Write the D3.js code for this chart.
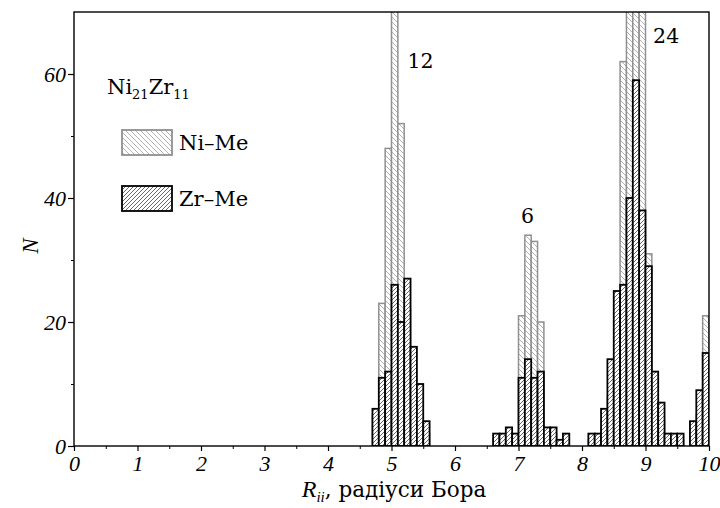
<!DOCTYPE html>
<html><head><meta charset="utf-8">
<script src="https://cdn.jsdelivr.net/npm/d3@7"></script>
<style>
body{margin:0;background:#fff;}
text{fill:#000;}
.up{font-family:"DejaVu Serif",serif;}
.it{font-family:"Liberation Serif",serif;font-style:italic;}
</style></head>
<body><svg id="c" width="720" height="508"></svg>
<script>
// bin left edges (Bohr radii), width 0.1
const binStart = [4.7,4.8,4.9,5.0,5.1,5.2,5.3,5.4,5.5,
  6.6,6.7,6.8,6.9,7.0,7.1,7.2,7.3,7.4,7.5,7.6,7.7,
  8.1,8.2,8.3,8.4,8.5,8.6,8.7,8.8,8.9,9.0,9.1,9.2,9.3,9.4,9.5,
  9.7,9.8,9.9];
const niMe = [5,23,48,96,52,22,10,6,2,
  1,1,1,1,21,34,33,20,2,2,0,1,
  1,1,3,8,22,62,90,95,92,31,9,4,1,1,1,
  2,5,21];
const zrMe = [6,11,12,26,20,27,16,10,4,
  2,2,3,2,11,14,11,12,3,3,1,2,
  2,2,6,14,25,26,40,59,38,29,12,7,2,2,2,
  4,9,15];
const binWidth = 0.1;
const xTicks = [0,1,2,3,4,5,6,7,8,9,10];
const yTicks = [0,20,40,60];
const peakLabels = [{t:"12", x:5.25, y:61}, {t:"6", x:7.04, y:36}, {t:"24", x:9.12, y:65}];

const svg = d3.select("#c");
const x = d3.scaleLinear().domain([0,10]).range([74,709]);
const y = d3.scaleLinear().domain([0,70]).range([446,12]);

const defs = svg.append("defs");
const pg = defs.append("pattern").attr("id","hGray").attr("patternUnits","userSpaceOnUse")
  .attr("width",5).attr("height",5);
pg.append("rect").attr("width",5).attr("height",5).attr("fill","#fff");
pg.append("path").attr("d","M0,0L5,5M-1,4L1,6M4,-1L6,1").attr("stroke","#a8a8a8").attr("stroke-width",0.9);
const pb = defs.append("pattern").attr("id","hBlack").attr("patternUnits","userSpaceOnUse")
  .attr("width",4).attr("height",4);
pb.append("rect").attr("width",4).attr("height",4).attr("fill","#fff");
pb.append("path").attr("d","M0,4L4,0M-1,1L1,-1M3,5L5,3").attr("stroke","#444").attr("stroke-width",0.8);
defs.append("clipPath").attr("id","clip").append("rect")
  .attr("x",x(0)).attr("y",y(70)).attr("width",x(10)-x(0)).attr("height",y(0)-y(70));

const gPlot = svg.append("g").attr("clip-path","url(#clip)");
const dataNi = binStart.map((b,i)=>({b, v:niMe[i]})).filter(d=>d.v>0);
const dataZr = binStart.map((b,i)=>({b, v:zrMe[i]})).filter(d=>d.v>0);

gPlot.selectAll("rect.ni").data(dataNi).join("rect").attr("class","ni")
  .attr("x",d=>x(d.b)).attr("width",d=>x(d.b+binWidth)-x(d.b))
  .attr("y",d=>y(d.v)).attr("height",d=>y(0)-y(d.v))
  .attr("fill","url(#hGray)").attr("stroke","#909090").attr("stroke-width",1.5);
gPlot.selectAll("rect.zr").data(dataZr).join("rect").attr("class","zr")
  .attr("x",d=>x(d.b)).attr("width",d=>x(d.b+binWidth)-x(d.b))
  .attr("y",d=>y(d.v)).attr("height",d=>y(0)-y(d.v))
  .attr("fill","url(#hBlack)").attr("stroke","#000").attr("stroke-width",1.8);

// frame
svg.append("rect").attr("x",x(0)).attr("y",y(70)).attr("width",x(10)-x(0)).attr("height",y(0)-y(70))
  .attr("fill","none").attr("stroke","#000").attr("stroke-width",1.4);

// x axis
const xAxis = d3.axisBottom(x).tickValues(xTicks).tickSize(5).tickFormat(d3.format("d"));
const gx = svg.append("g").attr("transform",`translate(0,${y(0)})`).call(xAxis);
gx.select(".domain").remove();
gx.selectAll("line").attr("stroke-width",1.2);
gx.selectAll("text").attr("class","it").attr("font-size",22).attr("dy",0).attr("y",25);
const xMinor = d3.axisBottom(x).tickValues(d3.range(0.5,10,1)).tickSize(3).tickFormat("");
const gxm = svg.append("g").attr("transform",`translate(0,${y(0)})`).call(xMinor);
gxm.select(".domain").remove(); gxm.selectAll("line").attr("stroke-width",1);

// y axis
const yAxis = d3.axisLeft(y).tickValues(yTicks).tickSize(6).tickFormat(d3.format("d"));
const gy = svg.append("g").attr("transform",`translate(${x(0)},0)`).call(yAxis);
gy.select(".domain").remove();
gy.selectAll("line").attr("stroke-width",1.2);
gy.selectAll("text").attr("class","it").attr("font-size",22).attr("x",-8).attr("dy","0.34em");
const yMinor = d3.axisLeft(y).tickValues([10,30,50]).tickSize(3).tickFormat("");
const gym = svg.append("g").attr("transform",`translate(${x(0)},0)`).call(yMinor);
gym.select(".domain").remove(); gym.selectAll("line").attr("stroke-width",1);
svg.selectAll(".tick text").attr("fill","#000");

// axis titles
svg.append("text").attr("class","it").attr("transform","translate(38,246) rotate(-90)").attr("text-anchor","middle")
  .attr("font-size",23).text("N");
const xt = svg.append("text").attr("class","up").attr("x",394).attr("y",497).attr("text-anchor","middle").attr("font-size",21.5);
xt.append("tspan").attr("class","it").attr("font-size",24).text("R");
xt.append("tspan").attr("class","it").attr("font-size",15).attr("dy",5).text("ii");
xt.append("tspan").attr("dy",-5).text(", радіуси Бора");

// peak labels
svg.selectAll("text.pk").data(peakLabels).join("text").attr("class","pk up")
  .attr("x",d=>x(d.x)).attr("y",d=>y(d.y)).attr("font-size",20.5).text(d=>d.t);

// legend
const tt = svg.append("text").attr("class","up").attr("x",107).attr("y",94).attr("font-size",21);
tt.append("tspan").text("Ni");
tt.append("tspan").attr("font-size",13).attr("dy",5).text("21");
tt.append("tspan").attr("dy",-5).text("Zr");
tt.append("tspan").attr("font-size",13).attr("dy",5).text("11");
const legend = [{label:"Ni–Me", fill:"url(#hGray)", stroke:"#909090", y:130},
                {label:"Zr–Me", fill:"url(#hBlack)", stroke:"#000", y:186}];
const lg = svg.selectAll("g.lg").data(legend).join("g").attr("class","lg");
lg.append("rect").attr("x",122).attr("y",d=>d.y).attr("width",50).attr("height",25)
  .attr("fill",d=>d.fill).attr("stroke",d=>d.stroke).attr("stroke-width",1.8);
lg.append("text").attr("class","up").attr("x",179).attr("y",d=>d.y+20).attr("font-size",21).text(d=>d.label);
</script></body></html>
